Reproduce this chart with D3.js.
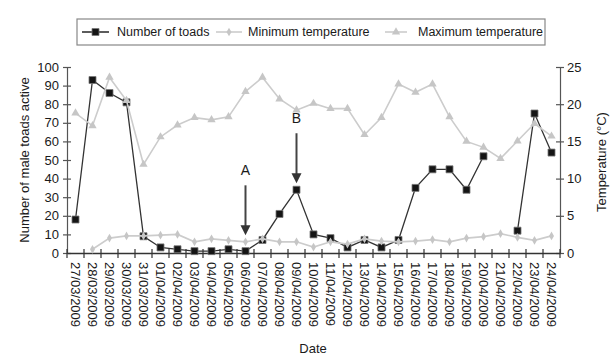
<!DOCTYPE html>
<html><head><meta charset="utf-8">
<script src="https://cdn.jsdelivr.net/npm/d3@7"></script>
<style>body{margin:0;background:#fff}svg{display:block;font-family:"Liberation Sans",Arial,sans-serif}</style>
</head><body><svg id="c" width="616" height="360"></svg>
<script>
const dates = ["27/03/2009","28/03/2009","29/03/2009","30/03/2009","31/03/2009","01/04/2009","02/04/2009","03/04/2009","04/04/2009","05/04/2009","06/04/2009","07/04/2009","08/04/2009","09/04/2009","10/04/2009","11/04/2009","12/04/2009","13/04/2009","14/04/2009","15/04/2009","16/04/2009","17/04/2009","18/04/2009","19/04/2009","20/04/2009","21/04/2009","22/04/2009","23/04/2009","24/04/2009"];
const toads = [18,93,86,81,9,3,2,1,1,2,1,7,21,34,10,8,3,7,3,7,35,45,45,34,52,null,12,75,54];
const minTemp = [null,0.5,2.0,2.3,2.3,2.4,2.5,1.5,1.9,1.7,1.5,1.9,1.5,1.5,0.8,1.5,1.2,1.9,1.6,1.5,1.6,1.8,1.5,2.0,2.2,2.6,2.1,1.7,2.3];
const maxTemp = [18.8,17.1,23.6,20.5,11.9,15.6,17.2,18.2,17.9,18.3,21.7,23.6,20.7,19.2,20.1,19.4,19.4,15.9,18.2,22.7,21.6,22.7,18.3,15.0,14.2,12.7,15.05,17.4,15.7];
const leftTicks = [0,10,20,30,40,50,60,70,80,90,100];
const rightTicks = [0,5,10,15,20,25];
const seriesNames = ["Number of toads","Minimum temperature","Maximum temperature"];
const annoLabels = ["A","B"];
const annoDates = ["06/04/2009","09/04/2009"];
const annoTips = [9.5,37.5];

const svg = d3.select("#c");
const x = d3.scaleBand().domain(dates).range([67,560]);
const cx = d => x(d) + x.bandwidth()/2;
const yL = d3.scaleLinear().domain([0,100]).range([253,67]);
const yR = d3.scaleLinear().domain([0,25]).range([253,67]);
const axisCol = "#555", grey = "#cccccc", txt = "#1a1a1a";

// left axis
const gl = svg.append("g").attr("transform","translate(67,0)")
  .call(d3.axisLeft(yL).tickValues(leftTicks).tickSizeOuter(0).tickSizeInner(4).tickPadding(4));
gl.select(".domain").attr("stroke",axisCol).attr("stroke-width",1.2);
gl.selectAll(".tick line").attr("x1",4).attr("x2",-4).attr("stroke",axisCol).attr("stroke-width",1.2);
gl.selectAll(".tick text").attr("font-size",13).attr("fill",txt).attr("font-family","Liberation Sans, Arial, sans-serif");

// right axis
const gr = svg.append("g").attr("transform","translate(560,0)")
  .call(d3.axisRight(yR).tickValues(rightTicks).tickSizeOuter(0).tickSizeInner(4).tickPadding(3));
gr.select(".domain").attr("stroke",axisCol).attr("stroke-width",1.2);
gr.selectAll(".tick line").attr("x1",-4).attr("x2",4).attr("stroke",axisCol).attr("stroke-width",1.2);
gr.selectAll(".tick text").attr("font-size",13).attr("fill",txt).attr("font-family","Liberation Sans, Arial, sans-serif");

// x axis
const gx = svg.append("g").attr("transform","translate(0,253)")
  .call(d3.axisBottom(x).tickSize(0).tickFormat(""));
gx.select(".domain").attr("stroke","#333").attr("stroke-width",1.4);
gx.selectAll(".tick").remove();
const edges = dates.map(d => x(d)).concat([x(dates[dates.length-1]) + x.bandwidth()]);
gx.selectAll("line.edge").data(edges).join("line").attr("class","edge")
  .attr("x1",d=>d).attr("x2",d=>d).attr("y1",-4).attr("y2",5)
  .attr("stroke","#333").attr("stroke-width",1.2);
svg.append("g").selectAll("text").data(dates).join("text")
  .attr("transform",d=>`translate(${cx(d)},262) rotate(90)`)
  .attr("dy","0.35em").attr("font-size",13).attr("fill",txt).text(d=>d);

// axis titles
svg.append("text").attr("transform","translate(24,160) rotate(-90)").attr("text-anchor","middle")
  .attr("dy","0.35em").attr("font-size",13).attr("fill",txt).text("Number of male toads active");
svg.append("text").attr("transform","translate(601,162) rotate(-90)").attr("text-anchor","middle")
  .attr("dy","0.35em").attr("font-size",13).attr("fill",txt).text("Temperature (°C)");
svg.append("text").attr("x",313).attr("y",353).attr("text-anchor","middle")
  .attr("font-size",13).attr("fill",txt).text("Date");

// markers
const sq = d3.symbol().type(d3.symbolSquare).size(49);
const di = d3.symbol().type(d3.symbolDiamond).size(22);
const tri = d3.symbol().type(d3.symbolTriangle).size(30);

function series(vals, yS, color, width, sym, fill, stroke){
  const pts = dates.map((d,i)=>({d, v: vals[i]}));
  svg.append("path").datum(pts)
    .attr("d", d3.line().defined(p=>p.v!==null).x(p=>cx(p.d)).y(p=>yS(p.v)))
    .attr("fill","none").attr("stroke",color).attr("stroke-width",width);
  svg.append("g").selectAll("path").data(pts.filter(p=>p.v!==null)).join("path")
    .attr("d", sym).attr("transform",p=>`translate(${cx(p.d)},${yS(p.v)})`)
    .attr("fill",fill).attr("stroke",stroke).attr("stroke-width",0.8);
}
series(toads, yL, "#333", 1.3, sq, "#151515", "#777");
series(maxTemp, yR, grey, 1.6, tri, "#c6c6c6", "none");
series(minTemp, yR, grey, 1.6, di, "#c6c6c6", "none");

// annotations
annoLabels.forEach((lab,i)=>{
  const ax = cx(annoDates[i]), tip = yL(annoTips[i]);
  svg.append("text").attr("x",ax).attr("y",tip-60).attr("text-anchor","middle")
    .attr("font-size",14).attr("fill",txt).text(lab);
  svg.append("line").attr("x1",ax).attr("x2",ax).attr("y1",tip-50).attr("y2",tip-8)
    .attr("stroke","#444").attr("stroke-width",2);
  svg.append("path").attr("d",`M${ax-5},${tip-10}L${ax+5},${tip-10}L${ax},${tip}Z`).attr("fill","#333");
});

// legend
const lg = svg.append("g");
lg.append("rect").attr("x",77).attr("y",19).attr("width",468).attr("height",26)
  .attr("fill","#fff").attr("stroke","#888").attr("stroke-width",1.2);
const legX = [82,216,385], legW = [27,26,22], legTx = [117,248,418];
const legSym = [sq, di, tri], legCol = ["#333",grey,grey], legFill = ["#151515","#c6c6c6","#c6c6c6"];
seriesNames.forEach((n,i)=>{
  lg.append("line").attr("x1",legX[i]).attr("x2",legX[i]+legW[i]).attr("y1",32).attr("y2",32)
    .attr("stroke",legCol[i]).attr("stroke-width",1.6);
  lg.append("path").attr("d",legSym[i]).attr("transform",`translate(${legX[i]+legW[i]/2},32)`)
    .attr("fill",legFill[i]).attr("stroke",i===0?"#777":"none").attr("stroke-width",0.8);
  lg.append("text").attr("x",legTx[i]).attr("y",32).attr("dy","0.35em")
    .attr("font-size",12.5).attr("fill",txt).text(n);
});
</script></body></html>
